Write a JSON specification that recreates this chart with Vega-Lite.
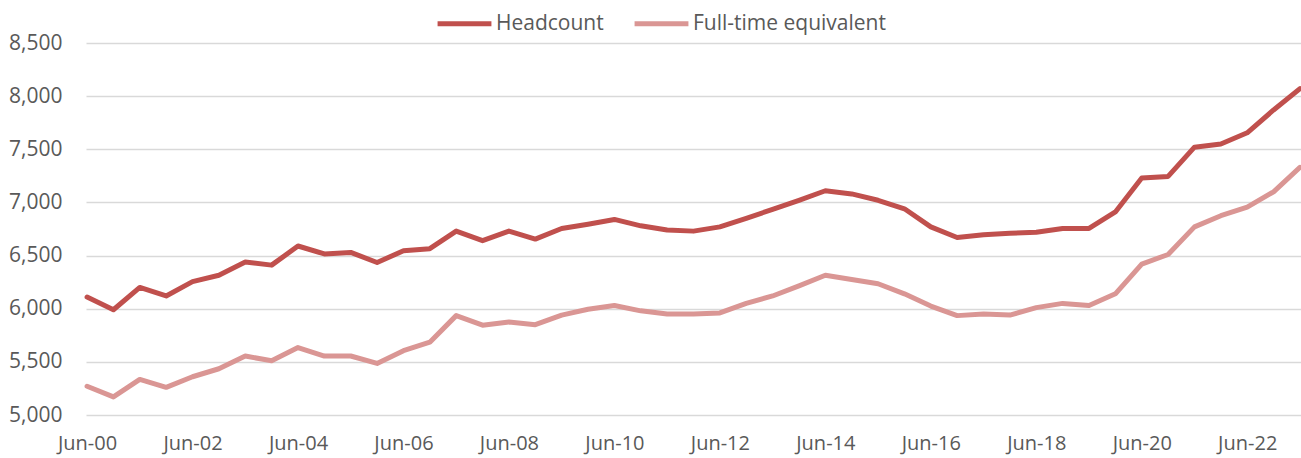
{
  "$schema": "https://vega.github.io/schema/vega-lite/v6.json",
  "width": 1215,
  "height": 372,
  "autosize": {"type": "none"},
  "padding": {"left": 86, "top": 43, "right": 0, "bottom": 43},
  "background": "white",
  "config": {
    "view": {"stroke": null},
    "font": "Open Sans",
    "axis": {"labelFont": "Open Sans", "labelFontSize": 21, "labelColor": "#595959"},
    "legend": {"labelFont": "Open Sans", "labelFontSize": 21, "labelColor": "#595959"}
  },
  "data": {
    "values": [
      {"period": "Jun-00", "series": "Headcount", "value": 6110},
      {"period": "Dec-00", "series": "Headcount", "value": 5990},
      {"period": "Jun-01", "series": "Headcount", "value": 6200},
      {"period": "Dec-01", "series": "Headcount", "value": 6120},
      {"period": "Jun-02", "series": "Headcount", "value": 6255},
      {"period": "Dec-02", "series": "Headcount", "value": 6315},
      {"period": "Jun-03", "series": "Headcount", "value": 6440},
      {"period": "Dec-03", "series": "Headcount", "value": 6410},
      {"period": "Jun-04", "series": "Headcount", "value": 6590},
      {"period": "Dec-04", "series": "Headcount", "value": 6515},
      {"period": "Jun-05", "series": "Headcount", "value": 6530},
      {"period": "Dec-05", "series": "Headcount", "value": 6435},
      {"period": "Jun-06", "series": "Headcount", "value": 6545},
      {"period": "Dec-06", "series": "Headcount", "value": 6565},
      {"period": "Jun-07", "series": "Headcount", "value": 6730},
      {"period": "Dec-07", "series": "Headcount", "value": 6640},
      {"period": "Jun-08", "series": "Headcount", "value": 6730},
      {"period": "Dec-08", "series": "Headcount", "value": 6655},
      {"period": "Jun-09", "series": "Headcount", "value": 6755},
      {"period": "Dec-09", "series": "Headcount", "value": 6795},
      {"period": "Jun-10", "series": "Headcount", "value": 6840},
      {"period": "Dec-10", "series": "Headcount", "value": 6780},
      {"period": "Jun-11", "series": "Headcount", "value": 6740},
      {"period": "Dec-11", "series": "Headcount", "value": 6730},
      {"period": "Jun-12", "series": "Headcount", "value": 6770},
      {"period": "Dec-12", "series": "Headcount", "value": 6850},
      {"period": "Jun-13", "series": "Headcount", "value": 6935},
      {"period": "Dec-13", "series": "Headcount", "value": 7020},
      {"period": "Jun-14", "series": "Headcount", "value": 7110},
      {"period": "Dec-14", "series": "Headcount", "value": 7080},
      {"period": "Jun-15", "series": "Headcount", "value": 7020},
      {"period": "Dec-15", "series": "Headcount", "value": 6940},
      {"period": "Jun-16", "series": "Headcount", "value": 6770},
      {"period": "Dec-16", "series": "Headcount", "value": 6670},
      {"period": "Jun-17", "series": "Headcount", "value": 6695},
      {"period": "Dec-17", "series": "Headcount", "value": 6710},
      {"period": "Jun-18", "series": "Headcount", "value": 6720},
      {"period": "Dec-18", "series": "Headcount", "value": 6755},
      {"period": "Jun-19", "series": "Headcount", "value": 6755},
      {"period": "Dec-19", "series": "Headcount", "value": 6910},
      {"period": "Jun-20", "series": "Headcount", "value": 7230},
      {"period": "Dec-20", "series": "Headcount", "value": 7245},
      {"period": "Jun-21", "series": "Headcount", "value": 7520},
      {"period": "Dec-21", "series": "Headcount", "value": 7550},
      {"period": "Jun-22", "series": "Headcount", "value": 7655},
      {"period": "Dec-22", "series": "Headcount", "value": 7870},
      {"period": "Jun-23", "series": "Headcount", "value": 8070},
      {"period": "Jun-00", "series": "Full-time equivalent", "value": 5270},
      {"period": "Dec-00", "series": "Full-time equivalent", "value": 5170},
      {"period": "Jun-01", "series": "Full-time equivalent", "value": 5335},
      {"period": "Dec-01", "series": "Full-time equivalent", "value": 5260},
      {"period": "Jun-02", "series": "Full-time equivalent", "value": 5360},
      {"period": "Dec-02", "series": "Full-time equivalent", "value": 5435},
      {"period": "Jun-03", "series": "Full-time equivalent", "value": 5555},
      {"period": "Dec-03", "series": "Full-time equivalent", "value": 5510},
      {"period": "Jun-04", "series": "Full-time equivalent", "value": 5635},
      {"period": "Dec-04", "series": "Full-time equivalent", "value": 5555},
      {"period": "Jun-05", "series": "Full-time equivalent", "value": 5555},
      {"period": "Dec-05", "series": "Full-time equivalent", "value": 5485},
      {"period": "Jun-06", "series": "Full-time equivalent", "value": 5605},
      {"period": "Dec-06", "series": "Full-time equivalent", "value": 5685},
      {"period": "Jun-07", "series": "Full-time equivalent", "value": 5935},
      {"period": "Dec-07", "series": "Full-time equivalent", "value": 5845},
      {"period": "Jun-08", "series": "Full-time equivalent", "value": 5875},
      {"period": "Dec-08", "series": "Full-time equivalent", "value": 5850},
      {"period": "Jun-09", "series": "Full-time equivalent", "value": 5940},
      {"period": "Dec-09", "series": "Full-time equivalent", "value": 5995},
      {"period": "Jun-10", "series": "Full-time equivalent", "value": 6030},
      {"period": "Dec-10", "series": "Full-time equivalent", "value": 5980},
      {"period": "Jun-11", "series": "Full-time equivalent", "value": 5950},
      {"period": "Dec-11", "series": "Full-time equivalent", "value": 5950},
      {"period": "Jun-12", "series": "Full-time equivalent", "value": 5960},
      {"period": "Dec-12", "series": "Full-time equivalent", "value": 6050},
      {"period": "Jun-13", "series": "Full-time equivalent", "value": 6120},
      {"period": "Dec-13", "series": "Full-time equivalent", "value": 6215},
      {"period": "Jun-14", "series": "Full-time equivalent", "value": 6315},
      {"period": "Dec-14", "series": "Full-time equivalent", "value": 6275},
      {"period": "Jun-15", "series": "Full-time equivalent", "value": 6235},
      {"period": "Dec-15", "series": "Full-time equivalent", "value": 6140},
      {"period": "Jun-16", "series": "Full-time equivalent", "value": 6025},
      {"period": "Dec-16", "series": "Full-time equivalent", "value": 5935},
      {"period": "Jun-17", "series": "Full-time equivalent", "value": 5950},
      {"period": "Dec-17", "series": "Full-time equivalent", "value": 5940},
      {"period": "Jun-18", "series": "Full-time equivalent", "value": 6010},
      {"period": "Dec-18", "series": "Full-time equivalent", "value": 6050},
      {"period": "Jun-19", "series": "Full-time equivalent", "value": 6030},
      {"period": "Dec-19", "series": "Full-time equivalent", "value": 6140},
      {"period": "Jun-20", "series": "Full-time equivalent", "value": 6420},
      {"period": "Dec-20", "series": "Full-time equivalent", "value": 6510},
      {"period": "Jun-21", "series": "Full-time equivalent", "value": 6770},
      {"period": "Dec-21", "series": "Full-time equivalent", "value": 6875},
      {"period": "Jun-22", "series": "Full-time equivalent", "value": 6955},
      {"period": "Dec-22", "series": "Full-time equivalent", "value": 7100},
      {"period": "Jun-23", "series": "Full-time equivalent", "value": 7330}
    ]
  },
  "mark": {"type": "line", "strokeWidth": 5, "strokeCap": "round", "strokeJoin": "round"},
  "encoding": {
    "x": {
      "field": "period",
      "type": "ordinal",
      "sort": null,
      "scale": {"type": "point", "padding": 0.04, "paddingOuter": 0.04},
      "axis": {
        "title": null,
        "domain": false,
        "ticks": false,
        "grid": false,
        "labelAngle": 0,
        "labelOverlap": false,
        "labelFlush": false,
        "labelPadding": 18,
        "labelFontSize": 20,
        "labelExpr": "slice(datum.value,0,3)=='Jun' && toNumber(slice(datum.value,4))%2==0 ? datum.value : ''"
      }
    },
    "y": {
      "field": "value",
      "type": "quantitative",
      "scale": {"domain": [5000, 8500], "nice": false, "zero": false},
      "axis": {
        "title": null,
        "domain": false,
        "ticks": false,
        "values": [5000, 5500, 6000, 6500, 7000, 7500, 8000, 8500],
        "format": ",d",
        "labelPadding": 24,
        "gridColor": "#d9d9d9",
        "gridWidth": 1.5
      }
    },
    "color": {
      "field": "series",
      "type": "nominal",
      "sort": ["Headcount", "Full-time equivalent"],
      "scale": {"domain": ["Headcount", "Full-time equivalent"], "range": ["#c0504d", "#da9694"]},
      "legend": {
        "title": null,
        "orient": "none",
        "direction": "horizontal",
        "legendX": 349,
        "legendY": -49,
        "symbolType": "stroke",
        "symbolSize": 2900,
        "symbolStrokeWidth": 5,
        "labelOffset": 2,
        "labelLimit": 400,
        "columnPadding": 20
      }
    }
  }
}
